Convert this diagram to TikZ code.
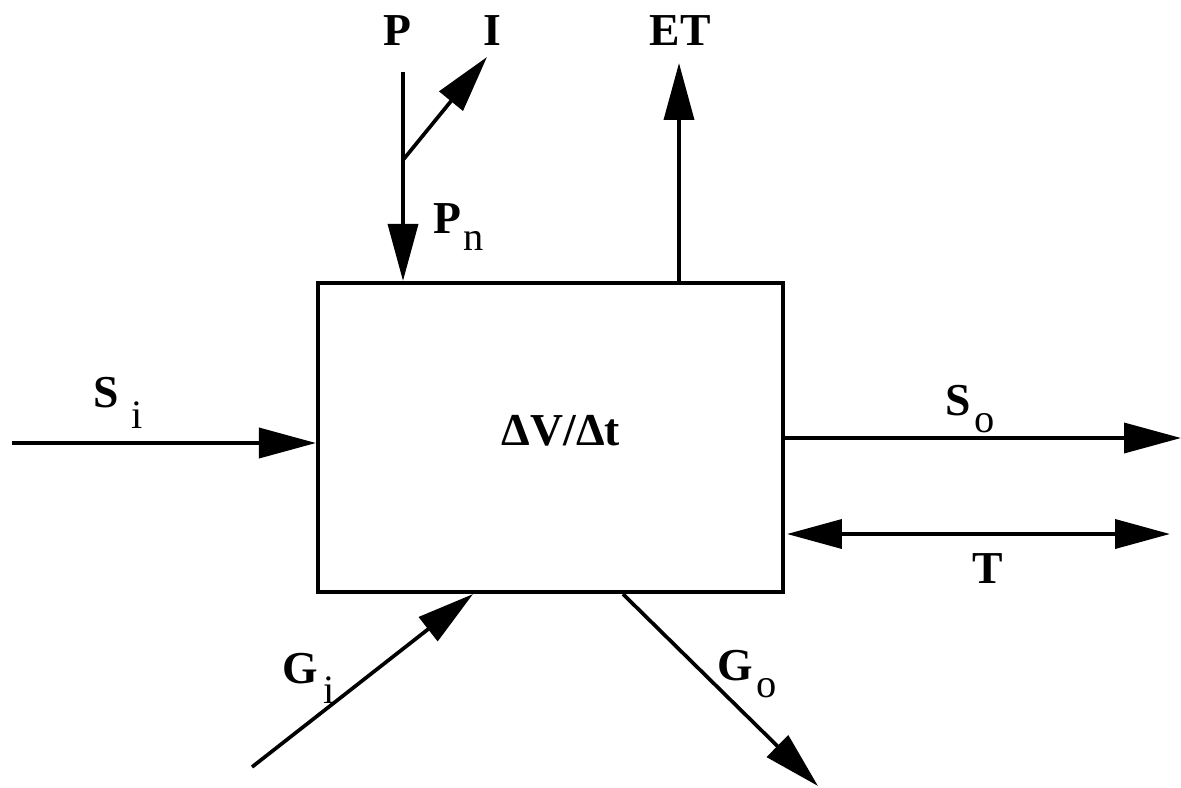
\documentclass[tikz,border=0pt]{standalone}
\usepackage{fontspec}
\setmainfont{Liberation Serif}
\usetikzlibrary{arrows.meta}
\newcommand{\subl}[2]{\raisebox{-#2}{\mdseries\fontsize{23}{26}\selectfont #1}}
\tikzset{
  lab/.style={font=\bfseries\fontsize{26}{30}\selectfont, inner sep=0pt},
  flow/.style={line width=2.1pt, -{Triangle[length=1.14cm,width=0.6cm]}},
  flow2/.style={line width=2.1pt, {Triangle[length=1.1cm,width=0.58cm]}-{Triangle[length=1.1cm,width=0.58cm]}},
  tank/.style={draw, line width=2.4pt, minimum width=9.3cm, minimum height=6.18cm, inner sep=0pt}
}
\begin{document}
\begin{tikzpicture}[x=0.02cm,y=-0.02cm]
\useasboundingbox (0,0) rectangle (1181,788);
% box
\node[tank] (box) at (550.5,437.5) {};
\node[lab, anchor=base] (vol) at (561,445) {ΔV/Δt};
% labels
\node[lab, anchor=base] (P) at (397,45) {P};
\node[lab, anchor=base] (I) at (492,45) {I};
\node[lab, anchor=base] (ET) at (680,45) {ET};
\node[lab, anchor=base west] (Pn) at (433,233) {P\hspace{1pt}\subl{n}{9.7pt}};
\node[lab, anchor=base west] (Si) at (93,407) {S\hspace{7pt}\subl{i}{12.5pt}};
\node[lab, anchor=base west] (So) at (945,415) {S\hspace{2pt}\subl{o}{9.7pt}};
\node[lab, anchor=base] (T) at (988,583) {T};
\node[lab, anchor=base west] (Gi) at (282,683) {G\hspace{3pt}\subl{i}{11.4pt}};
\node[lab, anchor=base west] (Go) at (717,680) {G\hspace{2pt}\subl{o}{9.7pt}};
% connector ends
\coordinate (pS) at (403,72);
\coordinate (pB) at (403,160);
\coordinate (iE) at (487,57);
\coordinate (etE) at (679,63);
\coordinate (siS) at (12,443);
\coordinate (soE) at (1181,438);
\coordinate (tE) at (1170,534);
\coordinate (tS) at (787,534);
\coordinate (giS) at (252,767);
\coordinate (giX) at (473,0);
\coordinate (goX) at (623,0);
\coordinate (goE) at (818,786);
% connectors
\draw[flow] (pS) -- (pS |- box.north);
\draw[flow] (pB) -- (iE);
\draw[flow] (etE |- box.north) -- (etE);
\draw[flow] (siS) -- (siS -| box.west);
\draw[flow] (soE -| box.east) -- (soE);
\draw[flow2] (tS) -- (tE);
\draw[flow] (giS) -- (giX |- box.south);
\draw[flow] (goX |- box.south) -- (goE);
\end{tikzpicture}
\end{document}
